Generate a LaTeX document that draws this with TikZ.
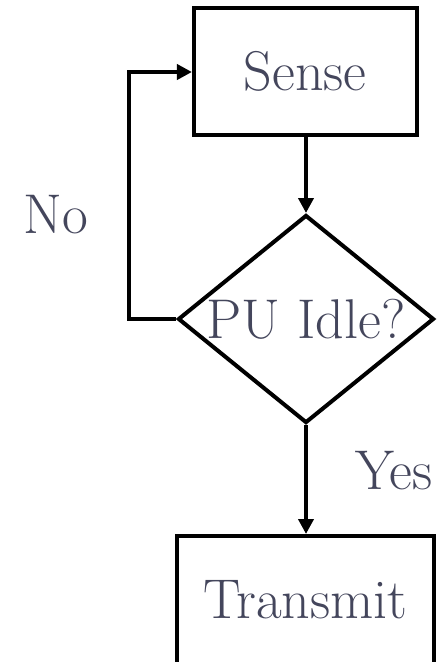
\documentclass[tikz,border=0pt]{standalone}
\usetikzlibrary{shapes.geometric,arrows.meta}
\definecolor{txt}{RGB}{68,70,92}
\begin{document}
\begin{tikzpicture}[x=1pt,y=-1pt,
  every node/.style={text=txt,font=\fontsize{56}{66}\selectfont},
  boxnode/.style={draw=black,line width=4pt,rectangle,inner sep=0pt},
  decnode/.style={draw=black,line width=4pt,diamond,inner sep=0pt,aspect=1.23,minimum width=256pt,minimum height=208pt},
  conn/.style={draw=black,line width=4pt,-{Triangle[length=15pt,width=15pt]}},
  lbl/.style={inner sep=0pt}]
\useasboundingbox (0,0) rectangle (437,662);
\clip (0,0) rectangle (437,662);
\fill[white] (0,0) rectangle (437,662);
\node[boxnode,minimum width=222.7pt,minimum height=126.7pt] (sense) at (305.3,71.3) {Sense};
\node[decnode] (dec) at (306,319) {PU Idle?};
\node[boxnode,minimum width=257.3pt,minimum height=128pt] (tx) at (305.3,600) {Transmit};
\node[lbl] (no) at (56,215) {No};
\node[lbl] (yes) at (394,471) {Yes};
\coordinate (lb) at (129.3,319);
\coordinate (lt) at (129.3,72);
\draw[conn] (sense.south -| dec.north) -- (dec.north);
\draw[conn] (dec.south) -- (dec.south |- tx.north);
\draw[conn,line join=miter] (dec.west) -- (lb) -- (lt) -- (lt -| sense.west);
\end{tikzpicture}
\end{document}
